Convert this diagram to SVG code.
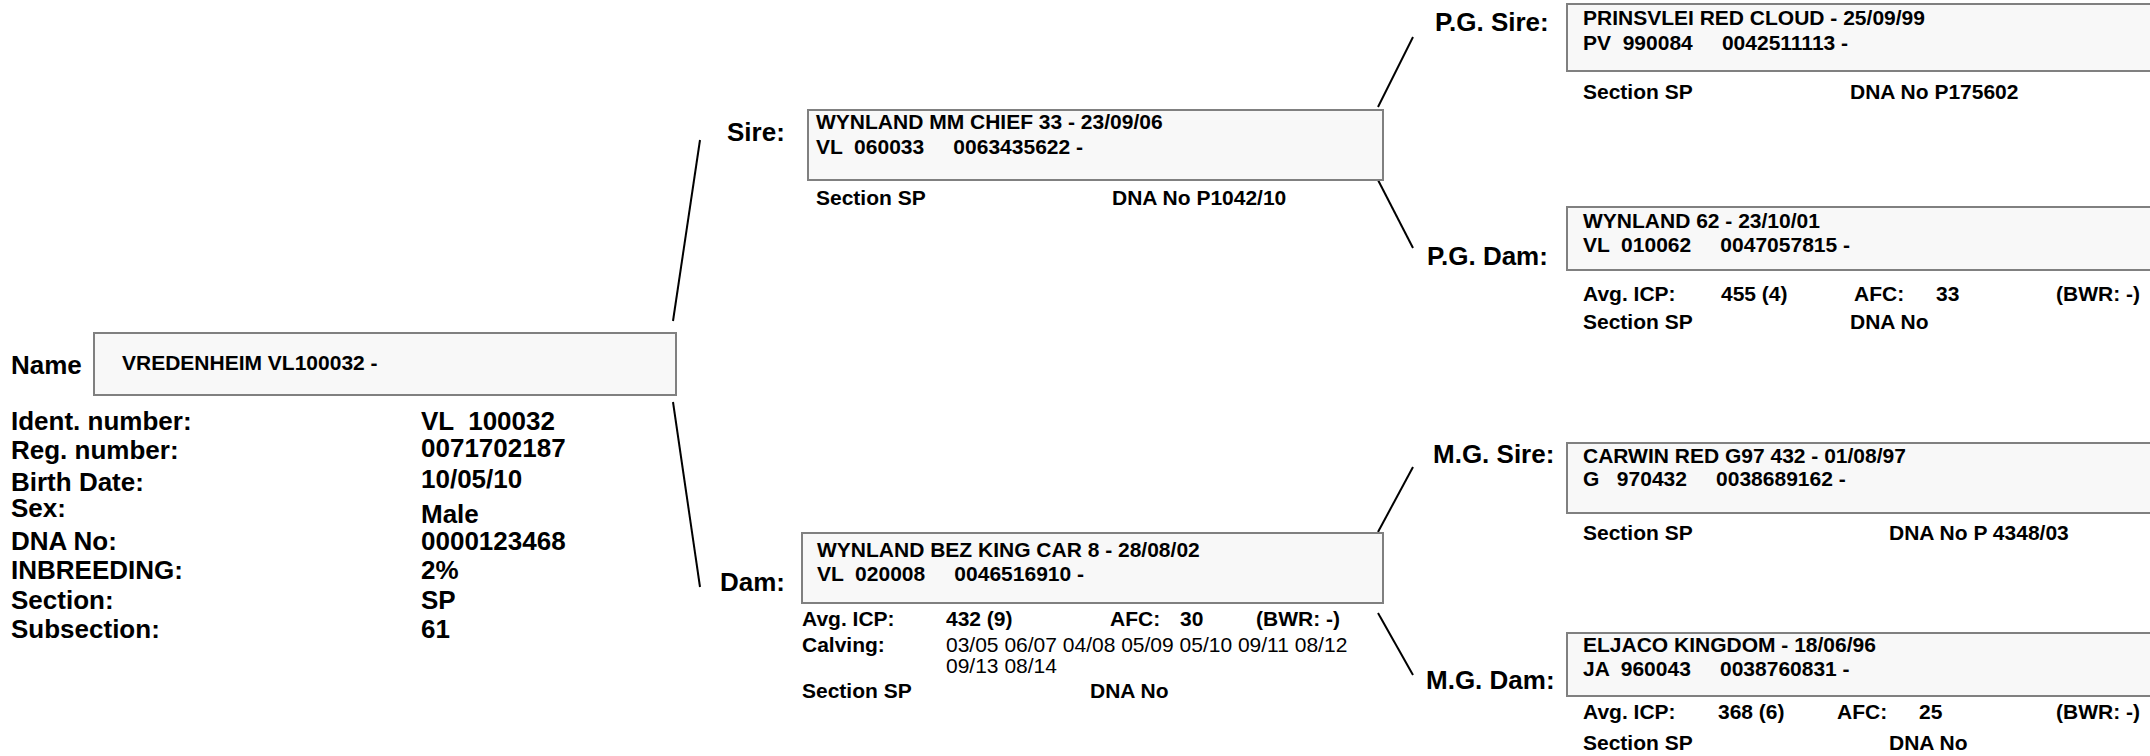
<svg xmlns="http://www.w3.org/2000/svg" width="2150" height="756" viewBox="0 0 2150 756">
<style>
text{font-family:"Liberation Sans",Arial,sans-serif;font-weight:bold;fill:#000}
.lbl{font-size:26px}
.info{font-size:26px}
.bt{font-size:21px}
.st{font-size:21px}
.nb{font-weight:normal}
.box{fill:#f8f8f8;stroke:#808080;stroke-width:2}
.conn{stroke:#000;stroke-width:2;fill:none}
</style>
<rect width="2150" height="756" fill="#fff"/>
<g id="connectors">
<line class="conn" x1="700" y1="140" x2="673" y2="321"/>
<line class="conn" x1="673" y1="402" x2="700" y2="587"/>
<line class="conn" x1="1378" y1="107" x2="1413" y2="37"/>
<line class="conn" x1="1378" y1="180" x2="1413" y2="248"/>
<line class="conn" x1="1378" y1="532" x2="1413" y2="467"/>
<line class="conn" x1="1378" y1="613" x2="1413" y2="675"/>
</g>
<g id="subject">
<text class="lbl" x="11" y="374">Name</text>
<rect class="box" x="94" y="333" width="582" height="62"/>
<text class="bt" x="122" y="370">VREDENHEIM VL100032 -</text>
<text class="info" x="11" y="430">Ident. number:</text>
<text class="info" x="11" y="459">Reg. number:</text>
<text class="info" x="11" y="491">Birth Date:</text>
<text class="info" x="11" y="517">Sex:</text>
<text class="info" x="11" y="550">DNA No:</text>
<text class="info" x="11" y="579">INBREEDING:</text>
<text class="info" x="11" y="609">Section:</text>
<text class="info" x="11" y="638">Subsection:</text>
<text class="info" x="421" y="430" xml:space="preserve">VL  100032</text>
<text class="info" x="421" y="457">0071702187</text>
<text class="info" x="421" y="488">10/05/10</text>
<text class="info" x="421" y="523">Male</text>
<text class="info" x="421" y="550">0000123468</text>
<text class="info" x="421" y="579">2%</text>
<text class="info" x="421" y="609">SP</text>
<text class="info" x="421" y="638">61</text>
</g>
<g id="sire">
<text class="lbl" x="727" y="141">Sire:</text>
<rect class="box" x="808" y="110" width="575" height="70"/>
<text class="bt" x="816" y="129">WYNLAND MM CHIEF 33 - 23/09/06</text>
<text class="bt" x="816" y="154" xml:space="preserve">VL  060033     0063435622 -</text>
<text class="st" x="816" y="205">Section SP</text>
<text class="st" x="1112" y="205">DNA No P1042/10</text>
</g>
<g id="dam">
<text class="lbl" x="720" y="591">Dam:</text>
<rect class="box" x="802" y="533" width="581" height="70"/>
<text class="bt" x="817" y="557">WYNLAND BEZ KING CAR 8 - 28/08/02</text>
<text class="bt" x="817" y="581" xml:space="preserve">VL  020008     0046516910 -</text>
<text class="st" x="802" y="626">Avg. ICP:</text>
<text class="st" x="946" y="626">432 (9)</text>
<text class="st" x="1110" y="626">AFC:</text>
<text class="st" x="1180" y="626">30</text>
<text class="st" x="1256" y="626">(BWR: -)</text>
<text class="st" x="802" y="652">Calving:</text>
<text class="st nb" x="946" y="652">03/05 06/07 04/08 05/09 05/10 09/11 08/12</text>
<text class="st nb" x="946" y="673">09/13 08/14</text>
<text class="st" x="802" y="698">Section SP</text>
<text class="st" x="1090" y="698">DNA No</text>
</g>
<g id="pg-sire">
<text class="lbl" x="1435" y="31">P.G. Sire:</text>
<rect class="box" x="1567" y="4" width="590" height="67"/>
<text class="bt" x="1583" y="25">PRINSVLEI RED CLOUD - 25/09/99</text>
<text class="bt" x="1583" y="50" xml:space="preserve">PV  990084     0042511113 -</text>
<text class="st" x="1583" y="99">Section SP</text>
<text class="st" x="1850" y="99">DNA No P175602</text>
</g>
<g id="pg-dam">
<text class="lbl" x="1427" y="265">P.G. Dam:</text>
<rect class="box" x="1567" y="207" width="590" height="63"/>
<text class="bt" x="1583" y="228">WYNLAND 62 - 23/10/01</text>
<text class="bt" x="1583" y="252" xml:space="preserve">VL  010062     0047057815 -</text>
<text class="st" x="1583" y="301">Avg. ICP:</text>
<text class="st" x="1721" y="301">455 (4)</text>
<text class="st" x="1854" y="301">AFC:</text>
<text class="st" x="1936" y="301">33</text>
<text class="st" x="2056" y="301">(BWR: -)</text>
<text class="st" x="1583" y="329">Section SP</text>
<text class="st" x="1850" y="329">DNA No</text>
</g>
<g id="mg-sire">
<text class="lbl" x="1433" y="463">M.G. Sire:</text>
<rect class="box" x="1567" y="443" width="590" height="70"/>
<text class="bt" x="1583" y="463">CARWIN RED G97 432 - 01/08/97</text>
<text class="bt" x="1583" y="486" xml:space="preserve">G   970432     0038689162 -</text>
<text class="st" x="1583" y="540">Section SP</text>
<text class="st" x="1889" y="540">DNA No P 4348/03</text>
</g>
<g id="mg-dam">
<text class="lbl" x="1426" y="689">M.G. Dam:</text>
<rect class="box" x="1567" y="633" width="590" height="63"/>
<text class="bt" x="1583" y="652">ELJACO KINGDOM - 18/06/96</text>
<text class="bt" x="1583" y="676" xml:space="preserve">JA  960043     0038760831 -</text>
<text class="st" x="1583" y="719">Avg. ICP:</text>
<text class="st" x="1718" y="719">368 (6)</text>
<text class="st" x="1837" y="719">AFC:</text>
<text class="st" x="1919" y="719">25</text>
<text class="st" x="2056" y="719">(BWR: -)</text>
<text class="st" x="1583" y="750">Section SP</text>
<text class="st" x="1889" y="750">DNA No</text>
</g>
</svg>
